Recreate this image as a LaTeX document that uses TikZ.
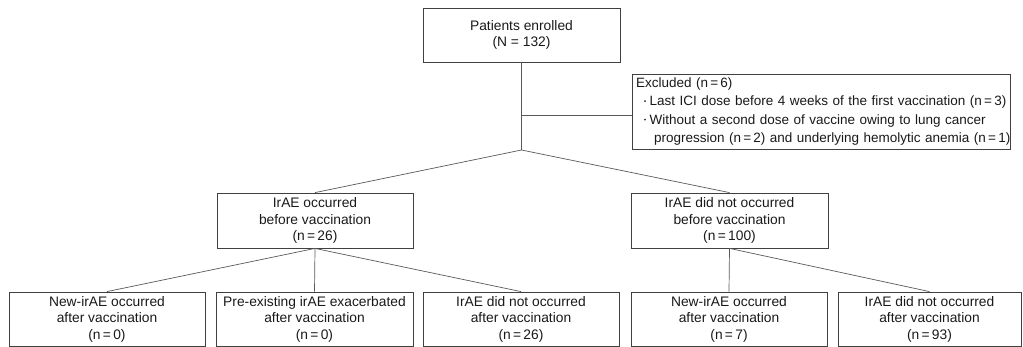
\documentclass[tikz,border=0pt]{standalone}
\usepackage{fontspec}
\setmainfont{Liberation Sans}
\newcommand{\bulletdot}{\raisebox{0.5ex}{\tikz\fill[black!85] (0,0) circle (1.05pt);}}
\begin{document}
\begin{tikzpicture}[x=1pt,y=-1pt,
  box/.style={draw=black!75, line width=0.8pt, inner sep=0pt, align=center,
    font=\fontsize{13.8}{16.5}\selectfont, text=black!90},
  conn/.style={draw=black!65, line width=0.7pt}]
\useasboundingbox (0,0) rectangle (1023,347);
\node[box, minimum width=197, minimum height=54] (top) at (521.5,35) {Patients enrolled\\(N = 132)};
\node[box, minimum width=378, minimum height=75, inner xsep=4pt, text width=370, align=left,
  font=\fontsize{13.5}{16.5}\selectfont] (excl) at (821,111.5)
  {\mbox{Excluded (n\,=\,6)}\\[2pt]
   \mbox{\hspace*{8pt}\bulletdot\hspace{3.5pt}Last ICI dose before 4 weeks of the first vaccination (n\,=\,3)}\\[2pt]
   \mbox{\hspace*{8pt}\bulletdot\hspace{3.5pt}Without a second dose of vaccine owing to lung cancer}\\[2pt]
   \mbox{\hspace*{18pt}progression (n\,=\,2) and underlying hemolytic anemia (n\,=\,1)}};
\node[box, minimum width=196, minimum height=55] (ml) at (315,220.5) {IrAE occurred\\before vaccination\\(n\,=\,26)};
\node[box, minimum width=197, minimum height=55] (mr) at (729.5,220.5) {IrAE did not occurred\\before vaccination\\(n\,=\,100)};
\node[box, minimum width=196, minimum height=54] (b1) at (107,319) {New-irAE occurred\\after vaccination\\(n\,=\,0)};
\node[box, minimum width=197, minimum height=54] (b2) at (314.5,319) {Pre-existing irAE exacerbated\\after vaccination\\(n\,=\,0)};
\node[box, minimum width=196, minimum height=54] (b3) at (521,319) {IrAE did not occurred\\after vaccination\\(n\,=\,26)};
\node[box, minimum width=196, minimum height=54] (b4) at (729,319) {New-irAE occurred\\after vaccination\\(n\,=\,7)};
\node[box, minimum width=183, minimum height=54] (b5) at (929.5,319) {IrAE did not occurred\\after vaccination\\(n\,=\,93)};
\coordinate (j1) at (521.5,115);
\coordinate (j2) at (521.5,150);
\draw[conn] (top.south) -- (j2);
\draw[conn] (j1) -- (j1 -| excl.west);
\draw[conn] (j2) -- (ml.north);
\draw[conn] (j2) -- (mr.north);
\draw[conn] (ml.south) -- (b1.north);
\draw[conn] (ml.south) -- (b2.north);
\draw[conn] (ml.south) -- (b3.north);
\draw[conn] (mr.south) -- (b4.north);
\draw[conn] (mr.south) -- (b5.north);
\end{tikzpicture}
\end{document}
